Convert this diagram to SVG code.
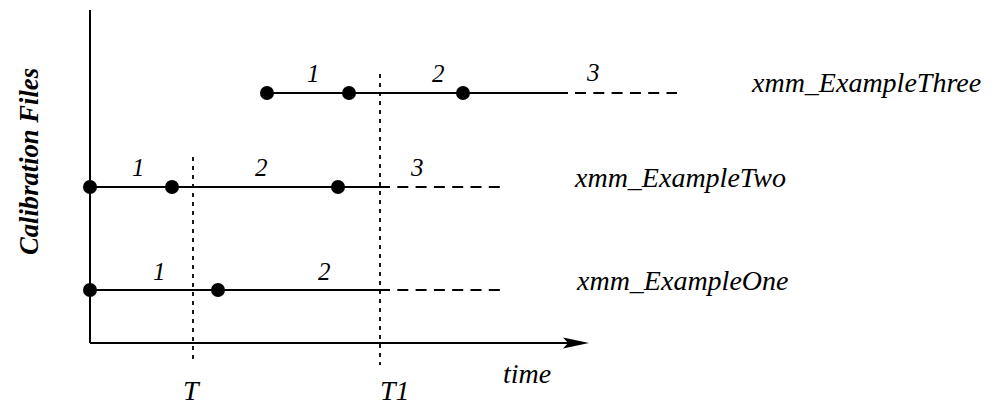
<svg xmlns="http://www.w3.org/2000/svg" width="999" height="406" viewBox="0 0 999 406">
  <style>
    .ln { stroke: #000; stroke-width: 2; fill: none; }
    .dash { stroke: #000; stroke-width: 2; fill: none; stroke-dasharray: 11 7.3; }
    .dot { stroke: #000; stroke-width: 1.8; fill: none; stroke-dasharray: 4 5; }
    .pt { fill: #000; }
    .t { font-family: "Liberation Serif", "Times New Roman", serif; font-style: italic; fill: #000; }
    .num { font-size: 25px; }
    .lbl { font-size: 28px; }
    .ax { font-size: 27px; font-weight: bold; }
  </style>
  <rect x="0" y="0" width="999" height="406" fill="#fff"/>

  <g id="axes">
    <line class="ln" x1="90" y1="10" x2="90" y2="343"/>
    <line class="ln" x1="90" y1="343" x2="580" y2="343"/>
    <path d="M589,343 L563,337.5 L568,343 L563,348.5 Z" fill="#000"/>
    <text class="t ax" transform="translate(38,161.5) rotate(-90)" text-anchor="middle" textLength="187" lengthAdjust="spacingAndGlyphs">Calibration Files</text>
    <text class="t lbl" x="503" y="383">time</text>
  </g>

  <g id="markers">
    <line class="dot" x1="193" y1="157" x2="193" y2="360"/>
    <line class="dot" x1="380" y1="74" x2="380" y2="365"/>
    <text class="t lbl" x="183" y="400">T</text>
    <text class="t lbl" x="380" y="400">T1</text>
  </g>

  <g id="connectors">
    <line class="ln" x1="267" y1="93" x2="568" y2="93"/>
    <line class="dash" x1="575" y1="93" x2="677" y2="93"/>
    <line class="ln" x1="90" y1="187" x2="380" y2="187"/>
    <line class="dash" x1="379" y1="187" x2="500" y2="187"/>
    <line class="ln" x1="90" y1="290" x2="380" y2="290"/>
    <line class="dash" x1="379" y1="290" x2="500" y2="290"/>
  </g>

  <g id="xmm_ExampleThree">
    <circle class="pt" cx="267" cy="93" r="7"/>
    <circle class="pt" cx="349" cy="93" r="7"/>
    <circle class="pt" cx="463" cy="93" r="7"/>
    <text class="t num" x="307" y="82">1</text>
    <text class="t num" x="432" y="82">2</text>
    <text class="t num" x="587" y="81">3</text>
    <text class="t lbl" x="752" y="92">xmm_ExampleThree</text>
  </g>

  <g id="xmm_ExampleTwo">
    <circle class="pt" cx="90" cy="187" r="7"/>
    <circle class="pt" cx="172" cy="187" r="7"/>
    <circle class="pt" cx="338" cy="187" r="7"/>
    <text class="t num" x="132" y="176">1</text>
    <text class="t num" x="255" y="176">2</text>
    <text class="t num" x="411" y="176">3</text>
    <text class="t lbl" x="575" y="187">xmm_ExampleTwo</text>
  </g>

  <g id="xmm_ExampleOne">
    <circle class="pt" cx="90" cy="290" r="7"/>
    <circle class="pt" cx="218" cy="290" r="7"/>
    <text class="t num" x="153" y="280">1</text>
    <text class="t num" x="318" y="280">2</text>
    <text class="t lbl" x="577" y="290">xmm_ExampleOne</text>
  </g>
</svg>
